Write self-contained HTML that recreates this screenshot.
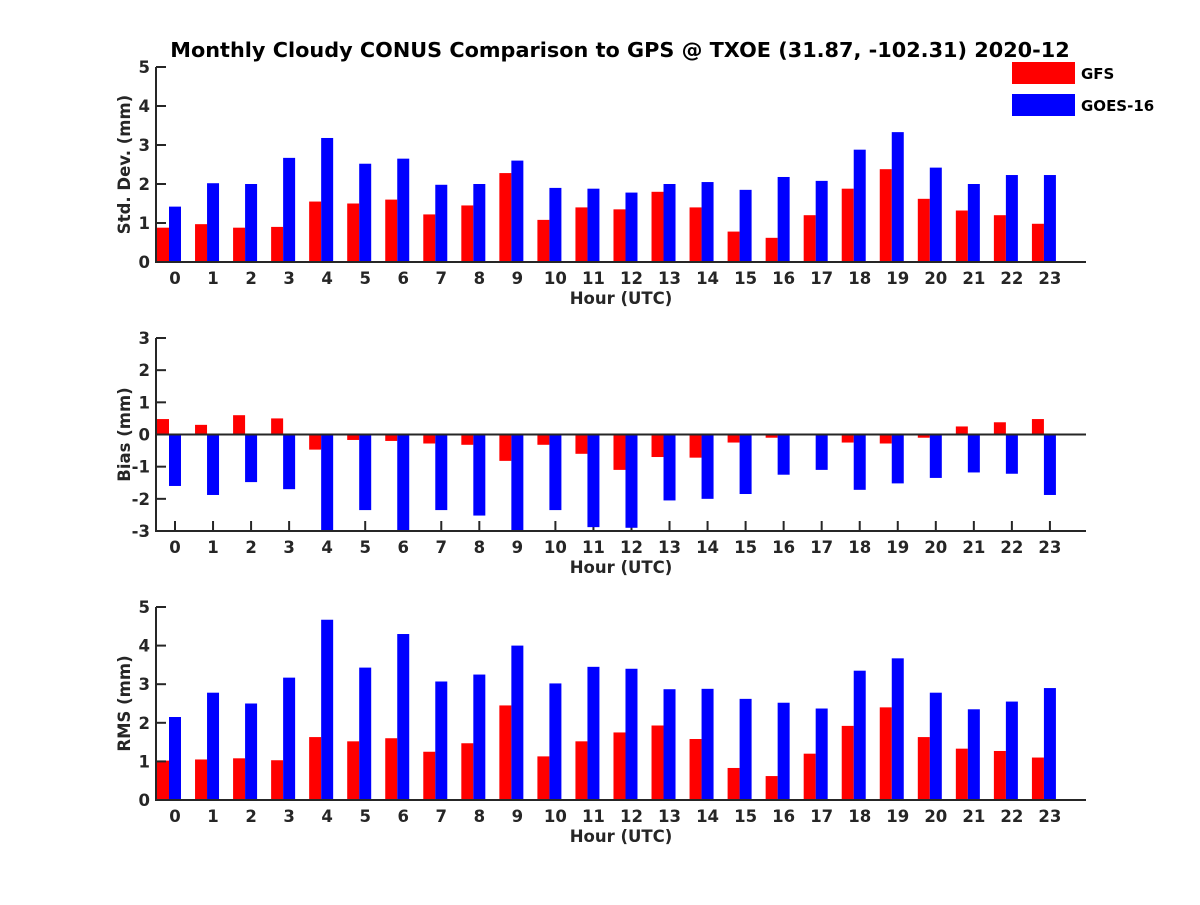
<!DOCTYPE html>
<html><head><meta charset="utf-8"><style>
body{margin:0;background:#fff}
svg text{font-family:"DejaVu Sans","Liberation Sans",sans-serif;font-weight:bold;fill:#262626}
</style></head><body>
<svg id="c" width="1200" height="900" xmlns="http://www.w3.org/2000/svg">
<text x="620" y="57" font-size="20.8" text-anchor="middle" style="fill:#000">Monthly Cloudy CONUS Comparison to GPS @ TXOE (31.87, -102.31) 2020-12</text>
<rect x="1012" y="62" width="63" height="22" fill="#ff0000"/>
<text x="1081" y="79" font-size="15" style="fill:#000">GFS</text>
<rect x="1012" y="94" width="63" height="22" fill="#0000ff"/>
<text x="1081" y="111" font-size="15" style="fill:#000">GOES-16</text>
</svg>
<script>
const hours=[...Array(24).keys()];
const stdGFS=[0.88,0.97,0.88,0.9,1.55,1.5,1.6,1.22,1.45,2.28,1.08,1.4,1.35,1.8,1.4,0.78,0.62,1.2,1.88,2.38,1.62,1.32,1.2,0.98];
const stdGOES=[1.42,2.02,2.0,2.67,3.18,2.52,2.65,1.98,2.0,2.6,1.9,1.88,1.78,2.0,2.05,1.85,2.18,2.08,2.88,3.33,2.42,2.0,2.23,2.23];
const biasGFS=[0.48,0.3,0.6,0.5,-0.47,-0.17,-0.2,-0.28,-0.32,-0.82,-0.32,-0.6,-1.1,-0.7,-0.72,-0.25,-0.1,-0.02,-0.25,-0.28,-0.1,0.25,0.38,0.48];
const biasGOES=[-1.6,-1.88,-1.48,-1.7,-3.1,-2.35,-3.1,-2.35,-2.52,-3.1,-2.35,-2.88,-2.9,-2.05,-2.0,-1.85,-1.25,-1.1,-1.72,-1.52,-1.35,-1.18,-1.22,-1.88];
const rmsGFS=[1.02,1.05,1.08,1.03,1.63,1.52,1.6,1.25,1.47,2.45,1.13,1.52,1.75,1.93,1.58,0.83,0.62,1.2,1.92,2.4,1.63,1.33,1.27,1.1];
const rmsGOES=[2.15,2.78,2.5,3.17,4.67,3.43,4.3,3.07,3.25,4.0,3.02,3.45,3.4,2.87,2.88,2.62,2.52,2.37,3.35,3.67,2.78,2.35,2.55,2.9];
const svg=document.getElementById('c');const NS='http://www.w3.org/2000/svg';
function mk(t,a,p){const e=document.createElementNS(NS,t);for(const k in a)e.setAttribute(k,a[k]);(p||svg).appendChild(e);return e;}
const X0=156,X1=1086;
function xs(h){return 175+h*38.04;}
function panel(key,top,bot,ymin,ymax,ylabel,g,b){
  const grp=mk('g',{});
  
  
  const ys=v=>bot-(v-ymin)/(ymax-ymin)*(bot-top);
  const cid='clip-'+key;
  const cp=mk('clipPath',{id:cid},grp);mk('rect',{x:X0,y:top,width:X1-X0,height:bot-top},cp);
  const z=ys(Math.max(0,ymin));
  hours.forEach(h=>{
    const c=xs(h);
    mk('line',{x1:c,x2:c,y1:bot,y2:bot-10,stroke:'#262626','stroke-width':2},grp);
    const t=mk('text',{x:c,y:bot+22,'font-size':16.5,'text-anchor':'middle'},grp);t.textContent=h;
    
    
  });
  hours.forEach(h=>{
    const c=xs(h);
    [[g[h],c-18,'#ff0000','gfs'],[b[h],c-6,'#0000ff','goes']].forEach(([v,x,col,n])=>{
      const y=ys(v);
      const r=mk('rect',{x:x,y:Math.min(y,z),width:12,height:Math.abs(z-y),fill:col,'clip-path':'url(#'+cid+')'},grp);
      
      
    });
  });
  if(ymin<0) mk('line',{x1:X0,x2:X1,y1:z,y2:z,stroke:'#262626','stroke-width':2},grp);
  for(let v=ymin;v<=ymax;v++){
    const y=ys(v);
    mk('line',{x1:X0,x2:X0+10,y1:y,y2:y,stroke:'#262626','stroke-width':2},grp);
    const t=mk('text',{x:X0-6,y:y+6,'font-size':16.5,'text-anchor':'end'},grp);t.textContent=v;
    
    
  }
  mk('line',{x1:X0,x2:X0,y1:top,y2:bot+1,stroke:'#262626','stroke-width':2},grp);
  mk('line',{x1:X0-1,x2:X1,y1:bot,y2:bot,stroke:'#262626','stroke-width':2},grp);
  const xl=mk('text',{x:621,y:bot+42,'font-size':16.5,'text-anchor':'middle'},grp);xl.textContent='Hour (UTC)';
  
  
  const cy=(top+bot)/2;
  const yl=mk('text',{x:0,y:0,'font-size':16.5,'text-anchor':'middle',transform:`translate(130,${cy}) rotate(-90)`},grp);yl.textContent=ylabel;
  
  
}
panel('std',67,262,0,5,'Std. Dev. (mm)',stdGFS,stdGOES);
panel('bias',338,531,-3,3,'Bias (mm)',biasGFS,biasGOES);
panel('rms',607,800,0,5,'RMS (mm)',rmsGFS,rmsGOES);
</script>
</body></html>
